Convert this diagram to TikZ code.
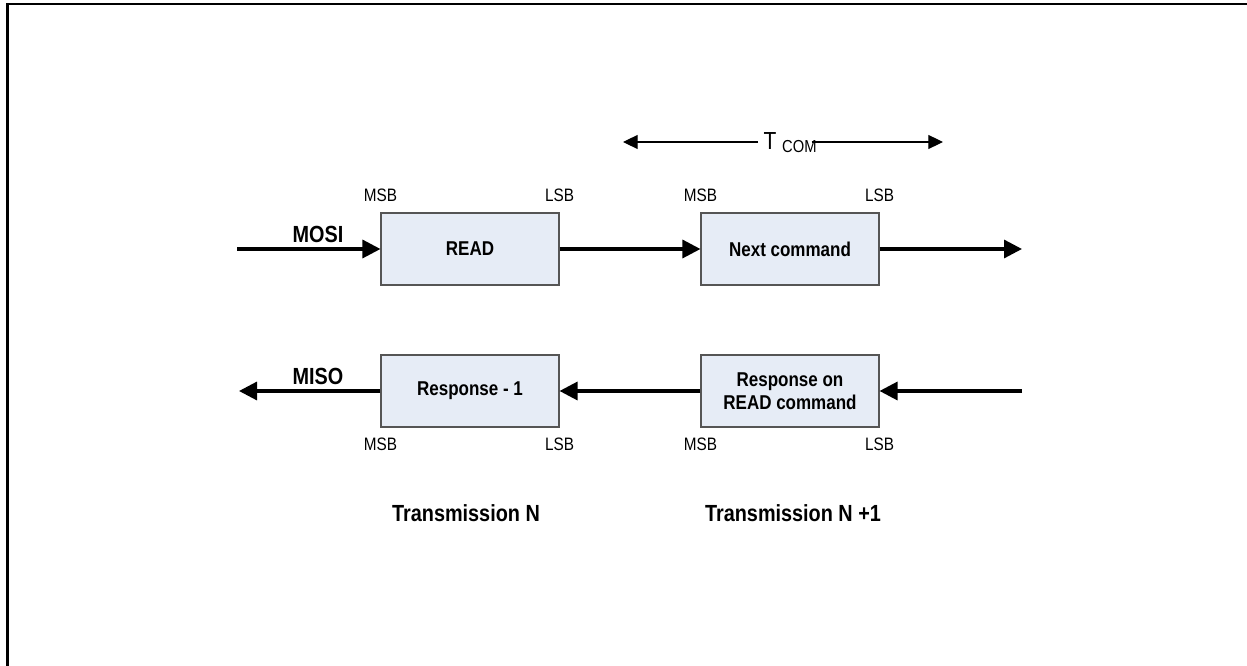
\documentclass[tikz,border=0pt]{standalone}
\usepackage{fontspec}
\setmainfont{Liberation Sans}[FakeStretch=0.85]
\usetikzlibrary{arrows.meta}
\definecolor{boxfill}{RGB}{230,236,246}
\definecolor{boxline}{RGB}{85,85,85}

\begin{document}
\begin{tikzpicture}[x=0.75pt, y=-0.75pt,
		msgbox/.style={draw=boxline, fill=boxfill, line width=0.8pt, minimum width=133.5pt, minimum height=54pt, inner sep=0pt, align=center, font=\bfseries\fontsize{15}{17.5}\selectfont},
		sig/.style={line width=2.4pt, -{Triangle[length=13.5pt, width=13.5pt]}},
		tarr/.style={line width=0.8pt, -{Triangle[length=11pt, width=10.5pt]}},
		bitlbl/.style={inner sep=0pt, font=\fontsize{13.5}{15}\selectfont},
		siglbl/.style={inner sep=0pt, font=\bfseries\fontsize{17.5}{20}\selectfont}]
			\useasboundingbox (0,0) rectangle (1247,666);
			\draw[line width=2pt] (7.3,666) -- (7.3,4) -- (1247,4);

			% command bytes on MOSI
			\node (read) [msgbox] at (470,249) {READ};
			\node (next) [msgbox] at (790,249) {Next command};
			% answer bytes on MISO
			\node (resp1) [msgbox] at (470,391) {Response - 1};
			\node (respon) [msgbox] at (790,391) {Response on\\READ command};

			\node (readmsb) [bitlbl, yshift=12.75pt] at (read.north west) {MSB};
			\node (readlsb) [bitlbl, yshift=12.75pt] at (read.north east) {LSB};
			\node (nextmsb) [bitlbl, yshift=12.75pt] at (next.north west) {MSB};
			\node (nextlsb) [bitlbl, yshift=12.75pt] at (next.north east) {LSB};
			\node (resp1msb) [bitlbl, yshift=-12.75pt] at (resp1.south west) {MSB};
			\node (resp1lsb) [bitlbl, yshift=-12.75pt] at (resp1.south east) {LSB};
			\node (responmsb) [bitlbl, yshift=-12.75pt] at (respon.south west) {MSB};
			\node (responlsb) [bitlbl, yshift=-12.75pt] at (respon.south east) {LSB};

			\coordinate (mosiin) at (237,249);
			\coordinate (mosiout) at (1022,249);
			\coordinate (misoin) at (1022,391);
			\coordinate (misoout) at (239,391);
			\draw[sig] (mosiin) -- (read);
			\draw[sig] (read) -- (next);
			\draw[sig] (next) -- (mosiout);
			\draw[sig] (misoin) -- (respon);
			\draw[sig] (respon) -- (resp1);
			\draw[sig] (resp1) -- (misoout);

			\node (mosi) [siglbl] at (318,234) {MOSI};
			\node (miso) [siglbl] at (318,376.5) {MISO};

			% T_COM span
			\node (tcom) [anchor=base west, inner xsep=4pt, inner ysep=1pt] at (758,150) {\fontsize{18.5}{20}\selectfont T {\fontsize{13}{15}\selectfont\raisebox{-2.25pt}{COM}}};
			\coordinate (tcoml) at (623,142);
			\coordinate (tcomr) at (943,142);
			\draw[tarr] (tcoml -| tcom.west) -- (tcoml);
			\draw[tarr] ([xshift=-8pt]tcomr -| tcom.east) -- (tcomr);

			\node (trn) [siglbl] at (466,513) {Transmission N};
			\node (trn1) [siglbl] at (793,513) {Transmission N +1};
		\end{tikzpicture}
\end{document}
